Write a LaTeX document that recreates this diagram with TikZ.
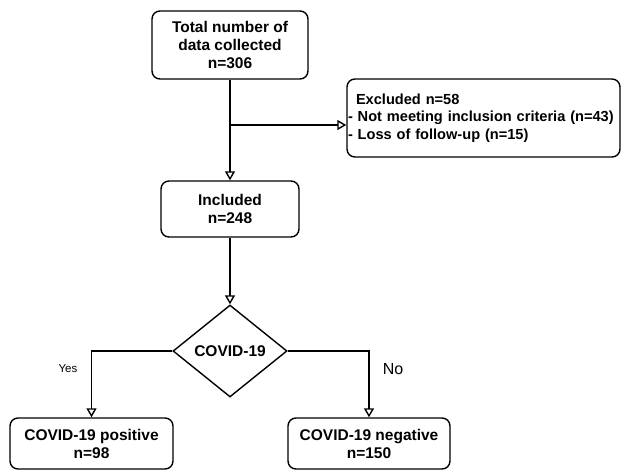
\documentclass[tikz,border=0pt]{standalone}
\usepackage{fontspec}
\setmainfont{Liberation Sans}
\usetikzlibrary{arrows.meta,shapes.geometric}
\begin{document}
\begin{tikzpicture}[x=1pt,y=-1pt,
  box/.style={draw, line width=1.4pt, rounded corners=8pt, align=center, inner sep=2pt,
    font=\fontsize{15.5}{18}\selectfont\bfseries},
  dec/.style={draw, line width=1.4pt, diamond, aspect=1.24, inner sep=0pt,
    minimum width=114pt, minimum height=92pt, font=\fontsize{15.5}{18}\selectfont\bfseries},
  arr/.style={line width=1.4pt, -{Triangle[open, length=9pt, width=10pt, fill=white]}},
  lbl/.style={inner sep=0pt}
]
\useasboundingbox[fill=white] (0,0) rectangle (621,471);
\node[box, minimum width=156pt, minimum height=68pt] (total) at (230,45)
  {Total number of\\data collected\\n=306};
\node[box, minimum width=273pt, minimum height=78pt, align=left, text width=271pt, inner xsep=1pt,
  font=\fontsize{14.6}{17.5}\selectfont\bfseries] (exc) at (483.5,118)
  {\hspace*{8pt}Excluded n=58\\- Not meeting inclusion criteria (n=43)\\- Loss of follow-up (n=15)};
\node[box, minimum width=138pt, minimum height=56pt] (incl) at (230,209)
  {Included\\n=248};
\node[dec] (covid) at (230,351) {COVID-19};
\node[box, minimum width=163pt, minimum height=51pt] (pos) at (91.5,443.5)
  {COVID-19 positive\\n=98};
\node[box, minimum width=162pt, minimum height=51pt] (neg) at (369,443.5)
  {COVID-19 negative\\n=150};
\coordinate (branch) at (230,125);
\draw[arr] (total) -- (incl);
\draw[arr] (branch) -- (branch -| exc.west);
\draw[arr] (incl) -- (covid);
\draw[arr] (covid.west) -| (pos.north);
\draw[arr] (covid.east) -| (neg.north);
\node[lbl, font=\fontsize{11.5}{13}\selectfont] (yes) at (68,369) {Yes};
\node[lbl, font=\fontsize{16}{18}\selectfont] (no) at (393,369) {No};
\end{tikzpicture}
\end{document}
